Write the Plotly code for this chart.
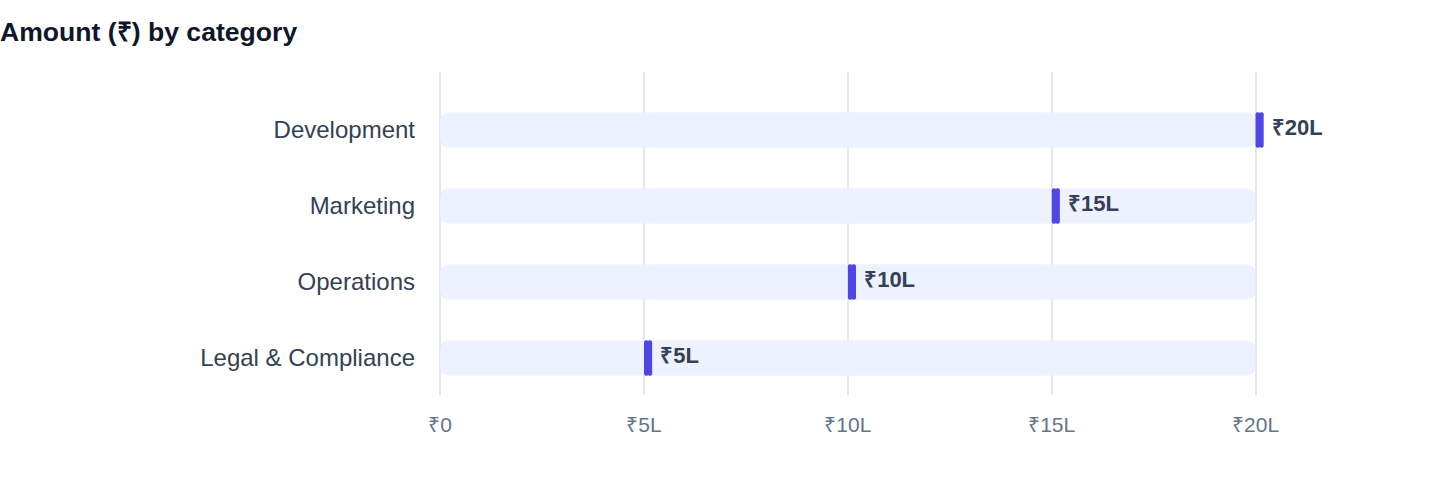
import plotly.graph_objects as go

# Data (amounts in lakh rupees)
categories = ["Development", "Marketing", "Operations", "Legal & Compliance"]
amounts = [20, 15, 10, 5]
track_max = 20
tick_vals = [0, 5, 10, 15, 20]
tick_text = ["₹0", "₹5L", "₹10L", "₹15L", "₹20L"]
value_labels = [f"₹{a}L" for a in amounts]

FONT = "Liberation Sans, Arial, Helvetica, sans-serif"
TRACK = "#EEF2FF"
PILL = "#4F46E5"
pill_w = 0.2   # marker thickness in data units (~8px)
n = len(categories)

fig = go.Figure()

# background track: two overlapping pieces so both ends get rounded corners
fig.add_trace(go.Bar(y=categories, x=[-track_max * 0.75] * n, base=[track_max * 0.75] * n,
                     orientation="h", marker=dict(color=TRACK, cornerradius=8, line_width=0),
                     width=0.46, hoverinfo="skip", showlegend=False))
fig.add_trace(go.Bar(y=categories, x=[track_max * 0.75] * n, base=[track_max * 0.25] * n,
                     orientation="h", marker=dict(color=TRACK, cornerradius=8, line_width=0),
                     width=0.46, hoverinfo="skip", showlegend=False))

# value marker (pill), two slightly overlapping halves
piece = pill_w * 0.55
fig.add_trace(go.Bar(y=categories, x=[-piece] * n, base=[a + piece for a in amounts],
                     orientation="h", marker=dict(color=PILL, cornerradius=4, line_width=0),
                     width=0.47, showlegend=False, hoverinfo="skip"))
fig.add_trace(go.Bar(y=categories, x=[piece] * n, base=[a + pill_w - piece for a in amounts],
                     orientation="h", marker=dict(color=PILL, cornerradius=4, line_width=0),
                     width=0.47, showlegend=False,
                     customdata=value_labels, hovertemplate="%{y}: %{customdata}<extra></extra>"))

# value labels
fig.add_trace(go.Scatter(y=categories, x=[a + pill_w + 0.2 for a in amounts], mode="text",
                         text=value_labels, textposition="middle right", cliponaxis=False,
                         textfont=dict(family=FONT, size=22, color="#334155", weight="bold"),
                         hoverinfo="skip", showlegend=False))

fig.update_layout(
    barmode="overlay",
    width=1440, height=484,
    paper_bgcolor="white", plot_bgcolor="white",
    margin=dict(l=432, r=160, t=72, b=89),
    font=dict(family=FONT, color="#334155"),
    title=dict(text="<b>Amount (₹) by category</b>", x=0, xref="container", xanchor="left",
               y=1 - 32 / 484, yref="container", yanchor="middle",
               font=dict(family=FONT, size=26.6, color="#0F172A")),
)
fig.update_xaxes(range=[-0.2, 20.6], tickvals=tick_vals, ticktext=tick_text,
                 showgrid=True, gridcolor="#E2E8F0", gridwidth=2, zeroline=False,
                 showline=False, ticks="", ticklabelstandoff=15,
                 tickfont=dict(family=FONT, size=21, color="#64748B"))
fig.update_yaxes(categoryorder="array", categoryarray=categories, range=[3.487, -0.763],
                 showgrid=False, zeroline=False, showline=False, ticks="",
                 ticklabelstandoff=16, tickfont=dict(family=FONT, size=24, color="#334155"))

fig.write_html("out.html", config={"displayModeBar": False},
               post_script="document.body.style.margin='0';")
